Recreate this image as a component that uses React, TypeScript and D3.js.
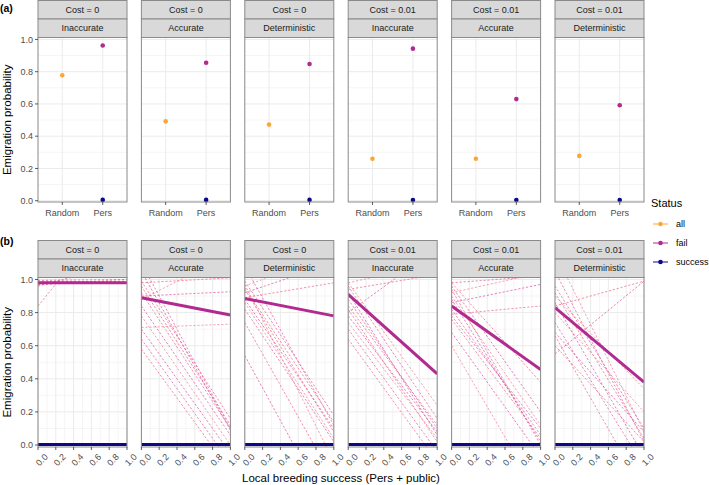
import React from "react";
import * as d3 from "d3";

const costLabels = ["Cost = 0", "Cost = 0", "Cost = 0", "Cost = 0.01", "Cost = 0.01", "Cost = 0.01"];
const modelLabels = ["Inaccurate", "Accurate", "Deterministic", "Inaccurate", "Accurate", "Deterministic"];
const strategies = ["Random", "Pers"];
const statusNames = ["all", "fail", "success"];
const statusColors = ["#FCA636", "#B12A90", "#0D0887"];

// panel (a): emigration probability
const allProb = [0.778, 0.492, 0.472, 0.26, 0.26, 0.278];
const failProb = [0.962, 0.855, 0.848, 0.943, 0.63, 0.592];
const successProb = [0.005, 0.005, 0.005, 0.004, 0.004, 0.004];
const allErr = [0.012, 0.006, 0.006, 0.006, 0.006, 0.006];
const failErr = [0.006, 0.008, 0.008, 0.006, 0.009, 0.006];

// panel (b): fitted lines (value at x=0, value at x=1)
const failFitStart = [0.98, 0.89, 0.885, 0.91, 0.84, 0.83];
const failFitEnd = [0.98, 0.785, 0.78, 0.43, 0.456, 0.38];
const successFitStart = [0.003, 0.003, 0.003, 0.003, 0.003, 0.003];
const successFitEnd = [0.003, 0.003, 0.003, 0.003, 0.003, 0.003];

// replicate lines [y at x=0, y at x=1]
const repCost0Inaccurate = [[0.84, 1.5], [0.96, 1.1], [0.97, 1.0], [0.995, 1.0], [0.97, 0.99], [0.99, 0.985]];
const repCost0Accurate = [[0.98, 1.01], [0.9, 0.926], [0.71, 0.73], [0.96, 0.12], [0.92, 0.1], [0.84, 0.06], [0.78, 0.0], [0.64, -0.11], [0.58, -0.16], [0.7, -0.05], [0.88, 1.15], [1.1, 0.1], [0.99, 0.16], [1.05, 0.09]];
const repCost0Deterministic = [[0.89, 0.98], [0.92, 1.1], [0.96, 1.16], [0.99, 0.18], [0.94, 0.08], [0.88, 0.1], [0.86, 0.04], [0.82, 0.02], [0.74, -0.21], [0.54, -0.44], [0.97, -0.1], [1.08, 0.12], [0.95, 0.14]];
const repCost001Inaccurate = [[0.94, 1.03], [0.8, 1.19], [0.98, 0.24], [0.96, 0.16], [0.84, 0.12], [0.78, 0.08], [0.74, 0.04], [0.7, -0.04], [0.64, -0.1], [0.92, 0.06], [0.98, 1.1], [0.88, 0.1], [0.82, 0.02]];
const repCost001Accurate = [[0.79, 0.84], [0.86, 0.97], [0.92, 1.04], [0.98, 1.02], [0.98, 0.38], [0.96, 0.2], [0.9, 0.12], [0.82, 0.06], [0.76, 0.04], [0.68, -0.07], [0.6, -0.32], [0.78, 0.1], [0.94, 0.0], [0.88, 0.02]];
const repCost001Deterministic = [[0.84, 0.99], [0.55, 0.99], [1.16, 0.08], [0.96, 0.1], [0.92, 0.04], [0.86, -0.07], [0.8, 0.2], [0.74, -0.13], [0.66, -0.28], [0.68, 0.08], [0.9, 0.34], [1.05, 0.02], [0.6, 0.02]];
const replicates = [repCost0Inaccurate, repCost0Accurate, repCost0Deterministic, repCost001Inaccurate, repCost001Accurate, repCost001Deterministic];
const repColors = ["#ef5b7b", "#d8449c", "#f3738a", "#e0509a"];

const yTicks = [0, 0.2, 0.4, 0.6, 0.8, 1.0];
const yMinor = [0.1, 0.3, 0.5, 0.7, 0.9];
const xTicks = [0, 0.2, 0.4, 0.6, 0.8, 1.0];
const xMinor = [0.1, 0.3, 0.5, 0.7, 0.9];

const W = 709, H = 485;
const panelLeft0 = 38, panelStep = 103.4, panelW = 89;
const stripH = 18.5;
const topA = 0.5, plotTopA = topA + 2 * stripH, plotBotA = 202;
const topB = 240.5, plotTopB = topB + 2 * stripH, plotBotB = 447;
const gridCol = "#ebebeb";
const borderCol = "#8a8a8a";
const tickTextCol = "#4d4d4d";
const font = "Liberation Sans, Arial, sans-serif";

function Strips({ x, y, i }: { x: number; y: number; i: number }) {
  return (
    <g>
      {[costLabels[i], modelLabels[i]].map((t, k) => (
        <g key={k}>
          <rect x={x} y={y + k * stripH} width={panelW} height={stripH} fill="#d9d9d9" stroke={borderCol} strokeWidth={1} />
          <text x={x + panelW / 2} y={y + k * stripH + stripH / 2 + 3.2} textAnchor="middle" fontSize={9} fill="#1a1a1a" fontFamily={font}>{t}</text>
        </g>
      ))}
    </g>
  );
}

export default function App() {
  const yA = d3.scaleLinear().domain([-0.008, 1.012]).range([plotBotA, plotTopA]);
  const yB = d3.scaleLinear().domain([-0.012, 1.012]).range([plotBotB, plotTopB]);
  const panels = d3.range(6);

  return (
    <svg width={W} height={H} style={{ position: "absolute", left: 0, top: 0, background: "#fff" }} fontFamily={font}>
      <defs>
        {panels.map((i) => (
          <clipPath id={`clipB${i}`} key={i}>
            <rect x={panelLeft0 + i * panelStep} y={plotTopB} width={panelW} height={plotBotB - plotTopB} />
          </clipPath>
        ))}
      </defs>
      <text x={0} y={12} fontSize={10.5} fontWeight="bold" fill="#000">(a)</text>
      <text x={0} y={245} fontSize={10.5} fontWeight="bold" fill="#000">(b)</text>

      {/* Row A */}
      {panels.map((i) => {
        const x0 = panelLeft0 + i * panelStep;
        const xs = d3.scalePoint<string>().domain(strategies).range([x0, x0 + panelW]).padding(0.6);
        const pts = [
          { s: "Random", v: allProb[i], e: allErr[i], c: statusColors[0] },
          { s: "Pers", v: failProb[i], e: failErr[i], c: statusColors[1] },
          { s: "Pers", v: successProb[i], e: 0.004, c: statusColors[2] },
        ];
        return (
          <g key={`a${i}`}>
            <rect x={x0} y={plotTopA} width={panelW} height={plotBotA - plotTopA} fill="#fff" />
            {yMinor.map((t) => <line key={`m${t}`} x1={x0} x2={x0 + panelW} y1={yA(t)} y2={yA(t)} stroke={gridCol} strokeWidth={0.5} />)}
            {yTicks.map((t) => <line key={`M${t}`} x1={x0} x2={x0 + panelW} y1={yA(t)} y2={yA(t)} stroke={gridCol} strokeWidth={1} />)}
            {strategies.map((s) => <line key={s} x1={xs(s)} x2={xs(s)} y1={plotTopA} y2={plotBotA} stroke={gridCol} strokeWidth={1} />)}
            {pts.map((p, k) => (
              <g key={k}>
                <line x1={xs(p.s)} x2={xs(p.s)} y1={yA(p.v - p.e)} y2={yA(p.v + p.e)} stroke={p.c} strokeWidth={1} />
                <circle cx={xs(p.s)} cy={yA(p.v)} r={2.3} fill={p.c} />
              </g>
            ))}
            <rect x={x0} y={plotTopA} width={panelW} height={plotBotA - plotTopA} fill="none" stroke={borderCol} strokeWidth={1} />
            <Strips x={x0} y={topA} i={i} />
            {strategies.map((s) => (
              <g key={`t${s}`}>
                <line x1={xs(s)} x2={xs(s)} y1={plotBotA} y2={plotBotA + 3} stroke="#333" strokeWidth={0.8} />
                <text x={xs(s)} y={plotBotA + 14} textAnchor="middle" fontSize={9} fill={tickTextCol}>{s}</text>
              </g>
            ))}
          </g>
        );
      })}
      {yTicks.map((t) => (
        <g key={`ya${t}`}>
          <line x1={panelLeft0 - 3} x2={panelLeft0} y1={yA(t)} y2={yA(t)} stroke="#333" strokeWidth={0.8} />
          <text x={panelLeft0 - 5} y={yA(t) + 3.2} textAnchor="end" fontSize={9} fill={tickTextCol}>{t.toFixed(1)}</text>
        </g>
      ))}
      <text transform={`translate(10.5,${(plotTopA + plotBotA) / 2}) rotate(-90)`} textAnchor="middle" fontSize={11.5} fill="#000">Emigration probability</text>

      {/* Row B */}
      {panels.map((i) => {
        const x0 = panelLeft0 + i * panelStep;
        const xs = d3.scaleLinear().domain([0, 1]).range([x0, x0 + panelW]);
        const line = d3.line<[number, number]>().x((d) => xs(d[0])).y((d) => yB(d[1]));
        return (
          <g key={`b${i}`}>
            <rect x={x0} y={plotTopB} width={panelW} height={plotBotB - plotTopB} fill="#fff" />
            {yMinor.map((t) => <line key={`ym${t}`} x1={x0} x2={x0 + panelW} y1={yB(t)} y2={yB(t)} stroke={gridCol} strokeWidth={0.5} />)}
            {xMinor.map((t) => <line key={`xm${t}`} x1={xs(t)} x2={xs(t)} y1={plotTopB} y2={plotBotB} stroke={gridCol} strokeWidth={0.5} />)}
            {yTicks.map((t) => <line key={`yM${t}`} x1={x0} x2={x0 + panelW} y1={yB(t)} y2={yB(t)} stroke={gridCol} strokeWidth={1} />)}
            {xTicks.map((t) => <line key={`xM${t}`} x1={xs(t)} x2={xs(t)} y1={plotTopB} y2={plotBotB} stroke={gridCol} strokeWidth={1} />)}
            <g clipPath={`url(#clipB${i})`}>
              {replicates[i].map((r, k) => (
                <path key={k} d={line([[0, r[0]], [1, r[1]]]) || ""} stroke={repColors[k % repColors.length]} strokeWidth={0.8} strokeDasharray="2.2,1.8" fill="none" opacity={0.85} />
              ))}
              <path d={line([[0, failFitStart[i]], [1, failFitEnd[i]]]) || ""} stroke={statusColors[1]} strokeWidth={3} fill="none" />
              <path d={line([[0, successFitStart[i]], [1, successFitEnd[i]]]) || ""} stroke={statusColors[2]} strokeWidth={3} fill="none" />
            </g>
            <rect x={x0} y={plotTopB} width={panelW} height={plotBotB - plotTopB} fill="none" stroke={borderCol} strokeWidth={1} />
            <Strips x={x0} y={topB} i={i} />
            {xTicks.map((t) => (
              <g key={`xt${t}`}>
                <line x1={xs(t)} x2={xs(t)} y1={plotBotB} y2={plotBotB + 3} stroke="#333" strokeWidth={0.8} />
                <text transform={`translate(${xs(t) + 6},${plotBotB + 15}) rotate(-45)`} textAnchor="middle" fontSize={9} fill={tickTextCol}>{t.toFixed(1)}</text>
              </g>
            ))}
          </g>
        );
      })}
      {yTicks.map((t) => (
        <g key={`yb${t}`}>
          <line x1={panelLeft0 - 3} x2={panelLeft0} y1={yB(t)} y2={yB(t)} stroke="#333" strokeWidth={0.8} />
          <text x={panelLeft0 - 5} y={yB(t) + 3.2} textAnchor="end" fontSize={9} fill={tickTextCol}>{t.toFixed(1)}</text>
        </g>
      ))}
      <text transform={`translate(10.5,${(plotTopB + plotBotB) / 2}) rotate(-90)`} textAnchor="middle" fontSize={11.5} fill="#000">Emigration probability</text>
      <text x={panelLeft0 + (5 * panelStep + panelW) / 2} y={482} textAnchor="middle" fontSize={11.5} fill="#000">Local breeding success (Pers + public)</text>

      {/* Legend */}
      <text x={651} y={207} fontSize={11} fill="#000">Status</text>
      {statusNames.map((s, k) => {
        const yy = 224 + k * 19;
        return (
          <g key={s}>
            <line x1={653} x2={668} y1={yy} y2={yy} stroke={statusColors[k]} strokeWidth={1} />
            <circle cx={660.5} cy={yy} r={2.3} fill={statusColors[k]} />
            <text x={676} y={yy + 3.2} fontSize={9} fill="#000">{s}</text>
          </g>
        );
      })}
    </svg>
  );
}
